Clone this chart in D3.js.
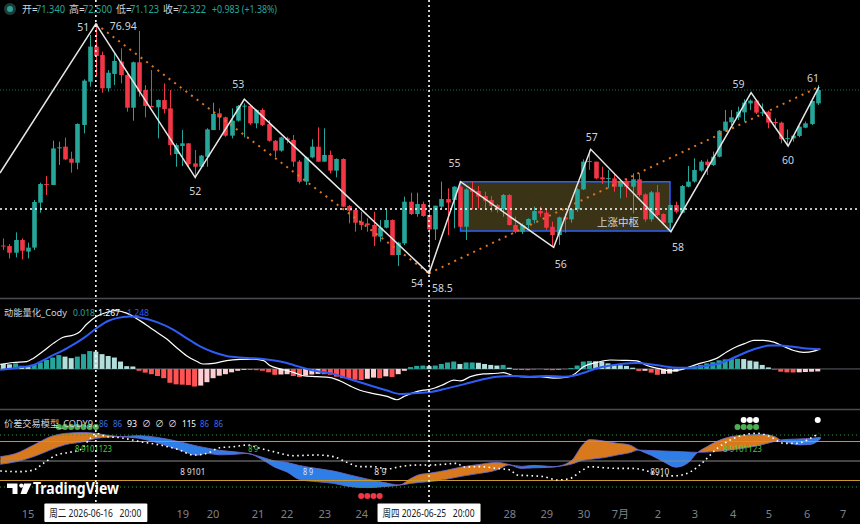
<!DOCTYPE html>
<html><head><meta charset="utf-8">
<script src="https://cdn.jsdelivr.net/npm/d3@7"></script>
<style>
html,body{margin:0;padding:0;background:#000;}
svg{display:block;font-family:"Noto Sans","Noto Sans CJK SC",sans-serif;}
</style></head><body>
<svg id="c" width="860" height="524"></svg>
<script>
// ---------- DATA ----------
const opens=[60.55,60.51,60.01,60.96,60.09,60.39,63.75,65.14,65.07,67.84,67.93,67.03,66.73,69.55,72.78,75.40,74.77,72.29,73.36,74.28,73.28,70.84,74.23,72.16,70.97,70.87,71.41,70.79,67.38,67.98,68.18,66.68,66.43,67.18,69.17,70.42,70.12,68.75,69.87,70.95,70.97,69.67,70.67,69.62,68.37,67.63,68.55,68.43,66.81,65.32,67.13,67.93,66.81,67.31,66.14,67.01,63.50,63.20,62.33,62.20,62.08,61.21,61.88,62.45,59.84,60.71,63.82,62.90,63.65,62.83,61.75,63.45,64.02,63.94,64.94,61.95,64.74,64.62,64.24,63.94,63.57,63.27,64.32,62.08,61.58,62.08,62.45,63.12,63.00,61.95,61.33,62.65,62.50,63.25,64.74,66.86,66.81,65.64,65.54,65.56,64.94,65.37,64.94,65.49,64.37,62.50,64.52,62.90,62.25,63.57,63.00,64.94,65.32,66.14,66.81,66.56,67.18,69.12,69.75,70.12,70.49,71.16,71.37,70.45,70.54,69.77,69.72,68.53,68.55,68.73,69.35,69.62,71.16];
const highs=[61.08,60.66,61.53,61.08,60.76,63.95,65.24,65.74,68.38,68.30,68.60,67.55,69.67,72.96,76.27,76.94,75.02,73.65,74.90,75.27,73.53,74.28,76.57,72.53,73.65,71.46,72.66,72.16,68.18,69.17,68.18,67.68,67.31,69.30,71.21,70.79,70.17,70.79,71.04,71.16,70.97,70.72,70.79,69.92,68.43,68.67,68.67,68.80,66.93,67.18,68.48,69.37,69.30,67.63,67.06,67.06,63.57,63.25,63.07,62.58,63.07,62.45,63.20,62.50,60.83,64.20,64.49,64.49,63.82,63.82,63.52,65.32,64.82,64.99,64.99,64.82,65.32,64.99,64.57,64.24,63.65,64.39,64.39,62.70,62.20,62.58,63.45,63.45,63.25,62.33,62.70,62.95,63.32,64.82,66.98,67.68,66.81,66.44,66.19,65.94,65.44,65.56,65.94,65.94,64.44,64.62,65.07,62.95,63.62,63.82,65.07,66.49,67.06,66.93,66.98,67.56,69.17,70.67,70.67,70.92,71.46,71.46,71.46,71.16,70.62,70.04,69.80,69.22,68.80,69.47,69.80,71.29,72.53];
const lows=[60.21,59.59,59.66,59.51,59.59,60.21,63.00,64.32,65.07,66.56,66.93,65.99,66.24,68.92,72.41,73.28,71.96,72.04,72.53,72.66,70.54,69.87,71.66,70.12,70.87,68.55,70.42,67.31,66.43,66.48,66.43,65.56,66.43,66.43,69.17,69.17,68.67,68.55,69.80,68.62,69.55,69.30,69.47,68.30,67.13,67.55,68.18,66.43,65.19,65.07,67.06,66.81,66.81,65.94,65.64,63.45,62.20,61.58,61.71,61.58,60.51,60.83,61.83,59.84,59.02,60.59,62.83,62.70,62.70,58.50,60.96,63.32,61.33,61.83,61.95,60.96,63.25,63.32,63.20,63.07,63.00,62.70,62.03,61.46,61.41,61.83,62.20,62.70,61.71,60.46,60.59,61.51,62.25,63.07,64.69,66.19,65.49,65.14,64.82,64.57,64.07,64.14,62.95,64.20,62.33,62.33,62.75,62.15,61.83,62.95,62.95,64.89,65.24,66.06,65.81,66.49,67.13,69.05,69.55,69.92,69.80,70.67,70.37,70.22,69.30,69.42,68.18,68.05,68.30,68.63,69.30,69.55,71.04];
const closes=[60.50,60.01,60.96,60.16,60.39,63.80,65.14,65.10,67.80,67.88,66.98,66.73,69.62,72.86,75.40,74.70,72.29,73.45,74.33,73.28,70.84,74.23,72.04,70.97,70.87,71.41,70.74,68.05,68.05,68.18,66.63,66.43,67.26,69.22,70.37,70.12,68.75,69.87,70.97,70.99,69.67,70.67,69.55,68.37,67.63,68.62,68.43,66.81,65.31,67.13,67.93,66.81,67.31,66.14,67.01,63.45,63.15,62.25,62.08,62.08,61.21,61.88,62.45,59.84,60.76,63.82,62.90,63.65,62.75,61.75,63.52,64.02,63.75,64.94,61.95,64.74,64.57,64.20,63.89,63.52,63.27,64.32,62.08,61.58,62.08,62.53,63.12,62.95,61.88,61.33,62.65,62.50,63.27,64.74,66.81,66.78,65.56,65.49,65.58,64.94,65.37,64.94,65.49,64.32,62.50,64.52,62.83,62.25,63.57,63.07,64.99,65.32,66.19,66.81,66.56,67.18,69.12,69.80,70.12,70.54,71.22,71.37,70.47,70.49,69.72,69.72,68.50,68.57,68.75,69.42,69.67,71.34,72.16];

// zigzag pivots (bar index, price) and their labels
const zzBars=[-0.54,15,31.1,39.06,69,74.1,89.2,95.2,108.2,121.2,127.2,132.2];
const zzPrices=[65.96,77.10,65.64,71.47,58.47,65.31,60.41,67.73,61.58,71.96,67.98,72.40];
const zzLabels=["","51","52","53","54","55","56","57","58","59","60","61"];
const priceTags=["76.94","58.5"];
const crossPrice=63.27;
const boxBars=[74.1,108.05];
const boxPrices=[65.31,61.63];
const boxText="上涨中枢";

// momentum pane
const histVals=[0.16,0.15,0.18,0.10,0.09,0.13,0.21,0.29,0.37,0.45,0.40,0.35,0.40,0.48,0.58,0.56,0.48,0.42,0.37,0.24,0.09,0.08,-0.06,-0.12,-0.17,-0.23,-0.30,-0.45,-0.50,-0.51,-0.52,-0.57,-0.54,-0.43,-0.30,-0.22,-0.17,-0.11,-0.06,-0.03,-0.035,-0.04,-0.06,-0.11,-0.19,-0.18,-0.17,-0.23,-0.26,-0.22,-0.18,-0.16,-0.17,-0.19,-0.25,-0.30,-0.32,-0.35,-0.36,-0.32,-0.28,-0.30,-0.24,-0.26,-0.17,-0.06,0.06,0.10,0.11,0.09,0.11,0.16,0.21,0.24,0.16,0.21,0.21,0.20,0.16,0.13,0.11,0.13,0.04,-0.03,-0.035,-0.04,-0.01,-0.005,-0.03,-0.04,-0.02,-0.005,0.03,0.11,0.24,0.26,0.25,0.24,0.18,0.13,0.12,0.10,0.04,-0.065,-0.06,-0.12,-0.19,-0.16,-0.15,-0.09,-0.01,0.04,0.08,0.13,0.18,0.22,0.28,0.31,0.32,0.33,0.32,0.27,0.24,0.13,0.05,-0.02,-0.09,-0.11,-0.115,-0.11,-0.10,-0.09,-0.08];
const macdBars=[-0.5,1.6,3.8,4.9,6.5,8.1,9.7,11.4,12.4,13.5,15.1,16.8,18.1,20.0,22.2,24.3,26.5,28.1,29.7,31.4,32.4,34.1,36.2,38.4,40.5,42.2,43.2,44.9,47.0,48.6,50.8,53.0,54.6,56.2,57.8,60.0,62.2,63.8,64.9,66.5,68.1,69.2,71.4,73.0,74.1,75.7,77.8,80.0,81.1,82.7,84.9,87.0,89.2,91.4,92.4,94.1,96.2,98.4,100.5,102.7,104.3,106.5,108.1,109.7,110.8,112.4,114.1,115.7,117.3,118.9,120.5,121.6,123.2,124.9,126.5,128.1,129.7,131.4,132.4];
const macdVals=[0.15,0.21,0.24,0.35,0.58,0.83,1.03,1.10,1.21,1.45,1.70,1.84,1.89,1.81,1.56,1.27,0.97,0.69,0.43,0.24,0.16,0.18,0.27,0.31,0.32,0.27,0.11,0.00,-0.11,-0.22,-0.25,-0.28,-0.39,-0.55,-0.69,-0.80,-0.89,-1.00,-0.90,-0.77,-0.69,-0.66,-0.50,-0.36,-0.39,-0.25,-0.16,-0.14,-0.12,-0.22,-0.26,-0.25,-0.30,-0.27,-0.19,0.08,0.21,0.29,0.28,0.26,0.11,0.00,-0.06,-0.03,0.04,0.15,0.24,0.35,0.56,0.73,0.85,0.93,0.93,0.87,0.73,0.60,0.54,0.58,0.65];
const sigBars=[-0.5,2.2,4.9,7.6,10.3,13.0,15.1,16.8,18.4,20.5,22.2,24.9,27.6,29.7,31.9,34.1,36.2,38.4,40.5,42.7,44.9,47.0,49.2,51.4,53.5,55.7,57.8,60.0,62.2,64.3,66.5,69.2,71.9,74.6,77.3,80.0,82.7,85.4,88.1,90.8,92.4,94.6,96.2,98.4,100.5,102.7,104.9,107.0,109.2,111.4,113.5,115.7,117.8,120.0,122.2,124.3,125.9,127.6,129.7,132.4];
const sigVals=[-0.03,0.04,0.13,0.40,0.67,1.00,1.32,1.54,1.65,1.70,1.67,1.52,1.27,1.00,0.73,0.54,0.42,0.37,0.35,0.31,0.24,0.13,0.00,-0.09,-0.16,-0.30,-0.43,-0.57,-0.70,-0.81,-0.79,-0.75,-0.63,-0.50,-0.36,-0.25,-0.23,-0.25,-0.23,-0.25,-0.22,-0.09,0.02,0.11,0.17,0.19,0.15,0.09,0.04,0.04,0.09,0.16,0.31,0.51,0.67,0.76,0.76,0.73,0.67,0.64];

// spread model pane
const bandBars=[-0.5,2,5,7.5,10,13,15,17,19,22,25,28.5,31.5,33,35,37.5,39.5,42,44,46,48,51,53.5,56,59,61.5,64.3,66,67.5,69,72,74.5,77,80,82,84,86,89,92,94,95,97.5,99.5,101.5,103,105,107,109,111,112.5,114,115.5,118,120.5,123,125,126,127.5,129,131,132.5];
const fastVals=[56.7,61.5,75,87,92.5,94,92.6,89.5,87.4,85,78,67,59,61.8,59.5,60.3,61.8,52,40.5,33,21.5,18,15.6,10.8,9,10.5,13.1,23,29.3,31,36.2,41.2,44.5,47.9,44.5,38.6,39.5,40.5,50,76,83,80.5,77.2,74.8,67,58.8,49,40.5,47.5,63,71.8,79.5,87.6,90,91,87.8,82,77.5,74.8,75.8,85];
const slowVals=[44.9,48.7,57,66.5,75,79.7,84.7,86.7,87.4,89,86.2,79.8,72.8,70,66.5,64.2,61.8,55.8,50,47.7,43,38.3,34.6,28.9,22.2,17.3,13.1,15.5,17.1,18.1,22.3,26.8,30.6,36.2,44.0,41.7,43.3,41.5,45,51.3,52.5,55.3,59.2,62.6,66.8,66.1,65.4,64.7,63.8,63.3,63.7,64.5,67.1,70.5,75.2,80.2,82.4,83.4,84,84.9,86.4];
const dotBars=[-0.5,2.7,4.9,6.5,8.6,10.3,12.4,14.1,15.1,16.8,18.9,22.2,25.4,28.6,30.8,33.0,35.1,37.3,39.5,41.6,43.8,47.0,50.8,53.5,55.7,57.8,60.0,62.2,64.3,67.0,69.2,71.4,73.5,74.6,77.3,80.0,82.2,83.2,85.4,87.6,89.7,91.9,93.5,95.1,97.3,99.5,101.6,103.8,105.4,107.0,109.2,111.4,113.5,115.7,117.8,120.0,122.2,124.3,126.5,128.6,130.8,132.2];
const dotVals=[34.6,33.6,36.2,46.4,59.2,62.8,66.9,84.9,92.6,87.4,85.9,79.7,74.6,66.9,59.2,61.8,70.5,72.0,74.6,69.5,64.4,58.2,59.2,56.7,47.9,41.3,41.3,37.7,41.3,43.8,43.8,44.9,46.4,40.8,41.3,38.7,36.2,28.5,27.4,25.9,20.8,23.3,33.6,41.3,39.7,38.7,38.7,36.2,31.0,26.9,27.4,33.6,49.0,69.5,82.3,90.0,92.6,87.4,77.2,77.2,84.9,92.6];
const levelVals=[90,80,50,20,10];
const greenDotBars=[9,10,11,12,13,14,15,119,120,121,122];
const whiteDotBars=[120,121,122,132];
const redDotBars=[58,59,60,61];
const markVals={green:102.3,white:113,red:-3.9};
const annTexts=["8 9101123","8 9","8 9101","8 9","8 9","8910","8 9101123"];
const annBars=[14.6,40.5,30.7,49.4,61.1,106.4,119.8];
const annVals=[63.8,63.8,28.5,28.5,28.5,28.5,63.8];
const annKinds=["g","g","w","b","w","w","g"];

// axis
const dayLabels=["15","19","20","21","22","23","24","28","29","30","7月","2","3","4","5","6","7"];
const dayBars=[4,29.1,34,41.3,46,52.1,58.1,82.1,88.1,94.1,100,106.1,112.1,118.3,124.1,130.3,136.1];
const crossBars=[15,69];
const crossTexts=["周二 2026-06-16   20:00","周四 2026-06-25   20:00"];

// header / legends
const headKeys=["开=","高=","低=","收="];
const headVals=["71.340","72.500","71.123","72.322"];
const headChange="+0.983 (+1.38%)";
const momTitle="动能量化_Cody";
const momVals=["0.018","1.267","1.248"];
const spTitle="价差交易模型_CODY9";
const spVals=["86","86","93","∅","∅","∅","115","86","86"];

// ---------- DRAW ----------
const svg=d3.select("#c");
svg.append("rect").attr("width",860).attr("height",524).attr("fill","#000");
const defs=svg.append("defs");
function clip(id,y0,y1){defs.append("clipPath").attr("id",id).append("rect").attr("x",0).attr("y",y0).attr("width",860).attr("height",y1-y0);}
clip("cTop",0,298);clip("cMid",299,409);clip("cBot",410,500);

const x=d3.scaleLinear().domain([0,132]).range([3.3,817.74]);
const yP=d3.scaleLinear().domain([56.63,78.88]).range([298,0]);
const yM=d3.scaleLinear().domain([-1.30,2.27]).range([409,299]);
const yB=d3.scaleLinear().domain([-10,128.5]).range([500,410]);

const UP="#26a69a",DN="#f23645",TXT="#d1d4dc";

// ---- top pane
const gT=svg.append("g").attr("clip-path","url(#cTop)");
const lastY=yP(closes[closes.length-1]);
gT.append("line").attr("x1",0).attr("x2",860).attr("y1",lastY).attr("y2",lastY)
  .attr("stroke","#1d6e57").attr("stroke-width",1).attr("stroke-dasharray","1,2");
gT.append("rect").attr("x",x(boxBars[0])).attr("y",yP(boxPrices[0]))
  .attr("width",x(boxBars[1])-x(boxBars[0])).attr("height",yP(boxPrices[1])-yP(boxPrices[0]))
  .attr("fill","#3a3316").attr("stroke","#2962ff").attr("stroke-width",1.5);

const idx=d3.range(opens.length);
const col=i=>closes[i]>=opens[i]?UP:DN;
const cg=gT.append("g");
cg.selectAll("line").data(idx).join("line")
  .attr("x1",i=>Math.round(x(i))+0.5).attr("x2",i=>Math.round(x(i))+0.5)
  .attr("y1",i=>yP(highs[i])).attr("y2",i=>yP(lows[i])).attr("stroke",col).attr("stroke-width",1);
cg.selectAll("rect").data(idx).join("rect")
  .attr("x",i=>Math.round(x(i))+0.5-2.3).attr("width",4.6)
  .attr("y",i=>yP(Math.max(opens[i],closes[i])))
  .attr("height",i=>Math.max(1,Math.abs(yP(opens[i])-yP(closes[i])))).attr("fill",col);

// orange dotted trend lines 51->54, 54->61
const segs=[[1,4],[4,11]];
segs.forEach(([a,b])=>{
  gT.append("line").attr("x1",x(zzBars[a])).attr("y1",yP(zzPrices[a])).attr("x2",x(zzBars[b])).attr("y2",yP(zzPrices[b]))
    .attr("stroke","#e0761c").attr("stroke-width",2).attr("stroke-dasharray","2,5");
});
// zigzag
gT.append("path").datum(d3.range(zzBars.length))
  .attr("d",d3.line().x(i=>x(zzBars[i])).y(i=>yP(zzPrices[i])))
  .attr("fill","none").attr("stroke","#e6e6e6").attr("stroke-width",1.5);
// pivot labels (offset in px from pivot)
const lblOff=[null,[-12.5,7],[0,18],[-6,-11],[-12,14],[-6,-15],[7,21],[1,-8],[7,19],[-12.5,-5],[0,18],[-6,-5]];
zzLabels.forEach((t,i)=>{ if(!t) return;
  gT.append("text").attr("x",x(zzBars[i])+lblOff[i][0]).attr("y",yP(zzPrices[i])+lblOff[i][1])
    .attr("text-anchor","middle").attr("fill",TXT).attr("font-size",10.5).text(t);
});
gT.append("text").attr("x",x(zzBars[1])+14).attr("y",yP(zzPrices[1])+6).attr("fill",TXT).attr("font-size",10.5).text(priceTags[0]);
gT.append("text").attr("x",x(zzBars[4])+3).attr("y",yP(zzPrices[4])+19).attr("fill",TXT).attr("font-size",10.5).text(priceTags[1]);
gT.append("text").attr("x",618).attr("y",226).attr("text-anchor","middle").attr("fill",TXT).attr("font-size",10.5).text(boxText);

// separators
[298.5,409.5].forEach(yy=>svg.append("line").attr("x1",0).attr("x2",860).attr("y1",yy).attr("y2",yy).attr("stroke","#4a4c55").attr("stroke-width",1.5));

// ---- middle pane
const gM=svg.append("g").attr("clip-path","url(#cMid)");
gM.append("line").attr("x1",0).attr("x2",860).attr("y1",yM(0)).attr("y2",yM(0)).attr("stroke","#5d606b");
const hcol=i=>{const h=histVals[i],p=i>0?histVals[i-1]:null;
  if(h>=0) return (p!==null&&h>=p)?"#26a69a":"#b2dfdb";
  return (p!==null&&h<=p)?"#ff5252":"#ffcdd2";};
gM.selectAll("rect.h").data(idx).join("rect").attr("class","h")
  .attr("x",i=>x(i)-2.5).attr("width",5)
  .attr("y",i=>Math.min(yM(0),yM(histVals[i]))).attr("height",i=>Math.abs(yM(histVals[i])-yM(0))).attr("fill",hcol);
const lineM=(bs,vs)=>d3.line().x(i=>x(bs[i])).y(i=>yM(vs[i])).curve(d3.curveMonotoneX)(d3.range(bs.length));
gM.append("path").attr("d",lineM(macdBars,macdVals)).attr("fill","none").attr("stroke","#ffffff").attr("stroke-width",1.2);
gM.append("path").attr("d",lineM(sigBars,sigVals)).attr("fill","none").attr("stroke","#2f5cf5").attr("stroke-width",2);
svg.append("text").attr("x",4).attr("y",316).attr("fill",TXT).attr("font-size",9.5)
  .attr("textLength",63).attr("lengthAdjust","spacingAndGlyphs").text(momTitle);
const momCols=["#26a69a","#ffffff","#2f5cf5"],momX=[73,98,127];
momVals.forEach((t,i)=>svg.append("text").attr("x",momX[i]).attr("y",316).attr("fill",momCols[i]).attr("font-size",9.5)
  .attr("textLength",22).attr("lengthAdjust","spacingAndGlyphs").text(t));

// ---- bottom pane
const gB=svg.append("g").attr("clip-path","url(#cBot)");
const bi=d3.range(bandBars.length);
defs.append("clipPath").attr("id","aboveSlow").append("path")
  .attr("d",d3.area().x(i=>x(bandBars[i])).y0(410).y1(i=>yB(slowVals[i])).curve(d3.curveMonotoneX)(bi));
defs.append("clipPath").attr("id","belowSlow").append("path")
  .attr("d",d3.area().x(i=>x(bandBars[i])).y0(500).y1(i=>yB(slowVals[i])).curve(d3.curveMonotoneX)(bi));
const band=d3.area().x(i=>x(bandBars[i])).y0(i=>yB(fastVals[i])).y1(i=>yB(slowVals[i])).curve(d3.curveMonotoneX)(bi);
gB.append("path").attr("d",band).attr("fill","#d7791c").attr("clip-path","url(#aboveSlow)");
gB.append("path").attr("d",band).attr("fill","#2d7ee6").attr("clip-path","url(#belowSlow)");
const lineB=(bs,vs)=>d3.line().x(i=>x(bs[i])).y(i=>yB(vs[i])).curve(d3.curveMonotoneX)(d3.range(bs.length));
gB.append("path").attr("d",lineB(bandBars,fastVals)).attr("fill","none").attr("stroke","#6f6bd6").attr("stroke-width",0.8);
gB.append("path").attr("d",lineB(bandBars,slowVals)).attr("fill","none").attr("stroke","#6f6bd6").attr("stroke-width",0.8);
const lvlStyle={90:["#2ea043","1,3"],80:["#c8982a",null],50:["#8a8a8a",null],20:["#c8982a",null],10:["#2ea043","1,3"]};
levelVals.forEach(v=>{const l=gB.append("line").attr("x1",0).attr("x2",860).attr("y1",yB(v)).attr("y2",yB(v))
  .attr("stroke",lvlStyle[v][0]).attr("stroke-width",1); if(lvlStyle[v][1]) l.attr("stroke-dasharray",lvlStyle[v][1]);});
gB.append("path").attr("d",lineB(dotBars,dotVals)).attr("fill","none").attr("stroke","#ffffff").attr("stroke-width",1.6).attr("stroke-dasharray","1.6,3.4");
const dots=(bs,v,c)=>bs.forEach(b=>svg.append("circle").attr("cx",x(b)).attr("cy",yB(v)).attr("r",3).attr("fill",c));
dots(greenDotBars,markVals.green,"#4caf50");
dots(whiteDotBars,markVals.white,"#ffffff");
dots(redDotBars,markVals.red,"#f23645");
const annCol={g:"#3fd13f",w:"#e0e0e0",b:"#d6e6ff"};
const annW=[37,10,25,10,12,19,39];
annTexts.forEach((t,i)=>svg.append("text").attr("x",x(annBars[i])).attr("y",yB(annVals[i])).attr("text-anchor","middle")
  .attr("fill",annCol[annKinds[i]]).attr("font-size",9).attr("textLength",annW[i]).attr("lengthAdjust","spacingAndGlyphs").style("white-space","pre").text(t));
svg.append("text").attr("x",4).attr("y",427).attr("fill",TXT).attr("font-size",9.5)
  .attr("textLength",89).attr("lengthAdjust","spacingAndGlyphs").text(spTitle);
const spX=[99,113,127,142,155,168,182,200,214];
const spW=[9,9,10,9,9,9,14,9,9];
const spC=["#3a6ff0","#3a6ff0","#ffffff",TXT,TXT,TXT,"#ffffff","#3a6ff0","#3a6ff0"];
spVals.forEach((t,i)=>svg.append("text").attr("x",spX[i]).attr("y",427).attr("fill",spC[i]).attr("font-size",9.5)
  .attr("textLength",spW[i]).attr("lengthAdjust","spacingAndGlyphs").text(t));

// ---- crosshair
crossBars.forEach(b=>svg.append("line").attr("x1",x(b)).attr("x2",x(b)).attr("y1",0).attr("y2",502)
  .attr("stroke","#ffffff").attr("stroke-width",1.6).attr("stroke-dasharray","2,3"));
svg.append("line").attr("x1",0).attr("x2",860).attr("y1",yP(crossPrice)).attr("y2",yP(crossPrice))
  .attr("stroke","#ffffff").attr("stroke-width",1.4).attr("stroke-dasharray","2,3");

// ---- x axis
dayLabels.forEach((t,i)=>svg.append("text").attr("x",x(dayBars[i])).attr("y",518).attr("text-anchor","middle")
  .attr("fill","#7f828c").attr("font-size",11).text(t));
crossBars.forEach((b,i)=>{
  svg.append("rect").attr("x",x(b)-51.5).attr("y",503.5).attr("width",103).attr("height",18.5).attr("rx",1).attr("fill","#ffffff");
  svg.append("text").attr("x",x(b)-46.5).attr("y",517).attr("fill","#131722").attr("font-size",10.5)
    .attr("textLength",92).attr("lengthAdjust","spacingAndGlyphs").style("white-space","pre").text(crossTexts[i]);
});

// ---- logo
const lg=svg.append("g").attr("fill","#ffffff");
lg.append("path").attr("d","M7,483.5 H17.5 V494 H12.5 V488 H7 Z");
lg.append("circle").attr("cx",21.3).attr("cy",485.6).attr("r",2.1);
lg.append("path").attr("d","M24,483.5 H31.5 L26.5,494 H20.5 Z");
svg.append("text").attr("x",33).attr("y",494).attr("fill","#ffffff").attr("font-size",16).attr("font-weight","bold")
  .attr("textLength",86).attr("lengthAdjust","spacingAndGlyphs").text("TradingView");

// ---- header
svg.append("circle").attr("cx",10).attr("cy",9).attr("r",6).attr("fill","#1f3b37");
svg.append("circle").attr("cx",10).attr("cy",9).attr("r",3).attr("fill","#26a69a");
const hkX=[22,69,116,163],hvX=[36,83,130,177];
headKeys.forEach((k,i)=>{
  svg.append("text").attr("x",hkX[i]).attr("y",13).attr("fill",TXT).attr("font-size",10).text(k);
  svg.append("text").attr("x",hvX[i]).attr("y",13).attr("fill","#26a69a").attr("font-size",10)
    .attr("textLength",29).attr("lengthAdjust","spacingAndGlyphs").text(headVals[i]);
});
svg.append("text").attr("x",212).attr("y",13).attr("fill","#26a69a").attr("font-size",10)
  .attr("textLength",65).attr("lengthAdjust","spacingAndGlyphs").text(headChange);
</script>
</body></html>
